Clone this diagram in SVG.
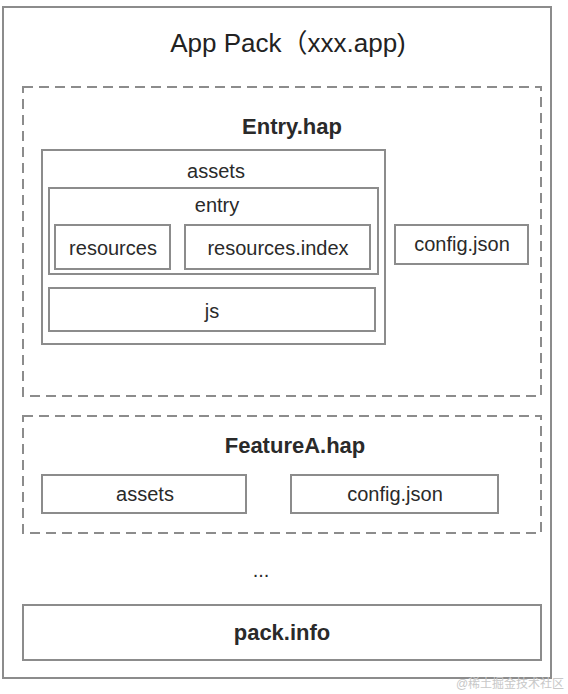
<svg xmlns="http://www.w3.org/2000/svg" width="568" height="694" viewBox="0 0 568 694">
<style>
.box{fill:#fff;stroke:#8c8c8c;stroke-width:2}
.dash{fill:none;stroke:#8c8c8c;stroke-width:2;stroke-dasharray:10 6}
text{font-family:"Liberation Sans","Noto Sans CJK SC",sans-serif;fill:#222;text-anchor:middle}
.t{font-size:20px;fill:#2a2a2a}
.h{font-size:22px;font-weight:bold;fill:#2a2a2a}
</style>
<rect width="568" height="694" fill="#fff"/>
<g id="app-pack">
<rect class="box" x="3" y="7" width="548" height="671"/>
<text x="288" y="52" style="font-size:26px">App Pack（xxx.app)</text>
</g>
<g id="entry-hap">
<rect class="dash" x="23" y="87" width="518" height="309"/>
<text class="h" x="292" y="134">Entry.hap</text>
</g>
<g id="entry-assets">
<rect class="box" x="42" y="150" width="343" height="194"/>
<text class="t" x="216" y="178">assets</text>
</g>
<g id="entry-dir">
<rect class="box" x="49" y="188" width="329" height="86"/>
<text class="t" x="217" y="212">entry</text>
</g>
<g id="resources">
<rect class="box" x="55" y="225" width="115" height="44"/>
<text class="t" x="113" y="255">resources</text>
</g>
<g id="resources-index">
<rect class="box" x="185" y="225" width="185" height="44"/>
<text class="t" x="278" y="255">resources.index</text>
</g>
<g id="js">
<rect class="box" x="49" y="288" width="326" height="43"/>
<text class="t" x="212" y="318">js</text>
</g>
<g id="entry-config">
<rect class="box" x="395" y="225" width="133" height="39"/>
<text class="t" x="462" y="251">config.json</text>
</g>
<g id="featurea-hap">
<rect class="dash" x="23" y="416" width="518" height="117"/>
<text class="h" x="295" y="453">FeatureA.hap</text>
</g>
<g id="featurea-assets">
<rect class="box" x="42" y="475" width="204" height="38"/>
<text class="t" x="145" y="501">assets</text>
</g>
<g id="featurea-config">
<rect class="box" x="291" y="475" width="207" height="38"/>
<text class="t" x="395" y="501">config.json</text>
</g>
<g id="ellipsis">
<text class="t" x="261" y="577">...</text>
</g>
<g id="pack-info">
<rect class="box" x="23" y="605" width="518" height="55"/>
<text class="h" x="282" y="640">pack.info</text>
</g>
<g id="connectors"></g>
<text x="510" y="688" style="font-size:12px;fill:#c8c8c8">@稀土掘金技术社区</text>
</svg>
